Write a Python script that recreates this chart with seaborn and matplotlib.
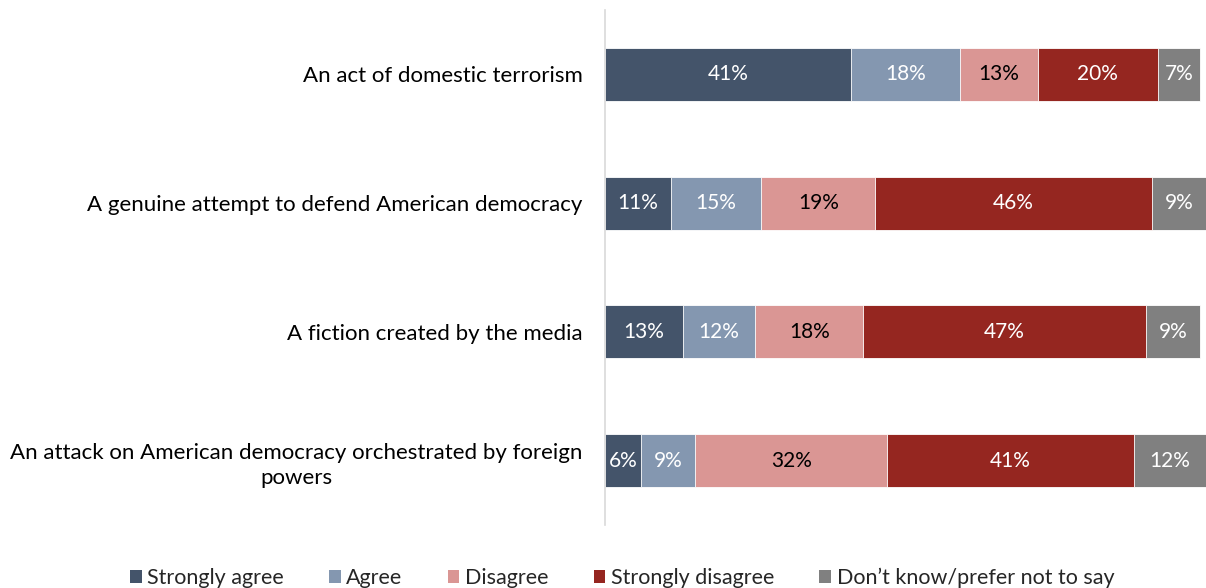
import numpy as np
import pandas as pd
import matplotlib
matplotlib.use("Agg")
import matplotlib.pyplot as plt
import seaborn as sns
from matplotlib.patches import Patch

statements = [
    "An act of domestic terrorism",
    "A genuine attempt to defend American democracy",
    "A fiction created by the media",
    "An attack on American democracy orchestrated by foreign\npowers",
]
responses = ["Strongly agree", "Agree", "Disagree", "Strongly disagree",
             "Don\u2019t know/prefer not to say"]
strongly_agree = [41, 11, 13, 6]
agree = [18, 15, 12, 9]
disagree = [13, 19, 18, 32]
strongly_disagree = [20, 46, 47, 41]
dont_know = [7, 9, 9, 12]

colors = ["#44546A", "#8497B0", "#DA9694", "#952620", "#808080"]
label_colors = ["white", "white", "black", "white", "white"]

sns.set_theme(style="white")
plt.rcParams["font.family"] = ["Lato", "DejaVu Sans"]
FS = 15

values = np.array([strongly_agree, agree, disagree, strongly_disagree, dont_know], dtype=float)
cum = values.cumsum(axis=0)

fig = plt.figure(figsize=(12.06, 5.88), dpi=100)
ax = fig.add_axes([605 / 1206, 1 - 525 / 588, 601 / 1206, 515 / 588])

# stacked bars: draw cumulative totals from the outermost segment inward
for i in range(len(responses) - 1, -1, -1):
    df = pd.DataFrame({"statement": statements, "value": cum[i]})
    sns.barplot(data=df, y="statement", x="value", order=statements,
                color=colors[i], orient="h", width=0.41, saturation=1,
                edgecolor="white", linewidth=0.6, ax=ax)

for i in range(len(responses)):
    starts = cum[i] - values[i]
    for j in range(len(statements)):
        ax.text(starts[j] + values[i][j] / 2, j, f"{int(values[i][j])}%",
                ha="center", va="center", color=label_colors[i], fontsize=FS)

ax.set_xlim(0, 100)
ax.set_ylim(3.5, -0.5)
ax.set_xlabel("")
ax.set_ylabel("")
ax.set_xticks([])
ax.tick_params(axis="y", length=0, pad=16, labelsize=16, labelcolor="black")
for side in ["top", "right", "bottom"]:
    ax.spines[side].set_visible(False)
ax.spines["left"].set_color("#D9D9D9")
ax.spines["left"].set_linewidth(1.2)
for lbl in ax.get_yticklabels():
    lbl.set_horizontalalignment("right")
    lbl.set_multialignment("center")
    lbl.set_linespacing(1.35)

handles = [Patch(facecolor=c, edgecolor="none") for c in colors]
fig.legend(handles, responses, loc="center", bbox_to_anchor=(622 / 1206, 1 - 578 / 588),
           ncol=5, frameon=False, fontsize=15.5, handlelength=0.55, handleheight=0.55,
           handletextpad=0.25, columnspacing=2.1)

fig.savefig("out.png", dpi=100)
